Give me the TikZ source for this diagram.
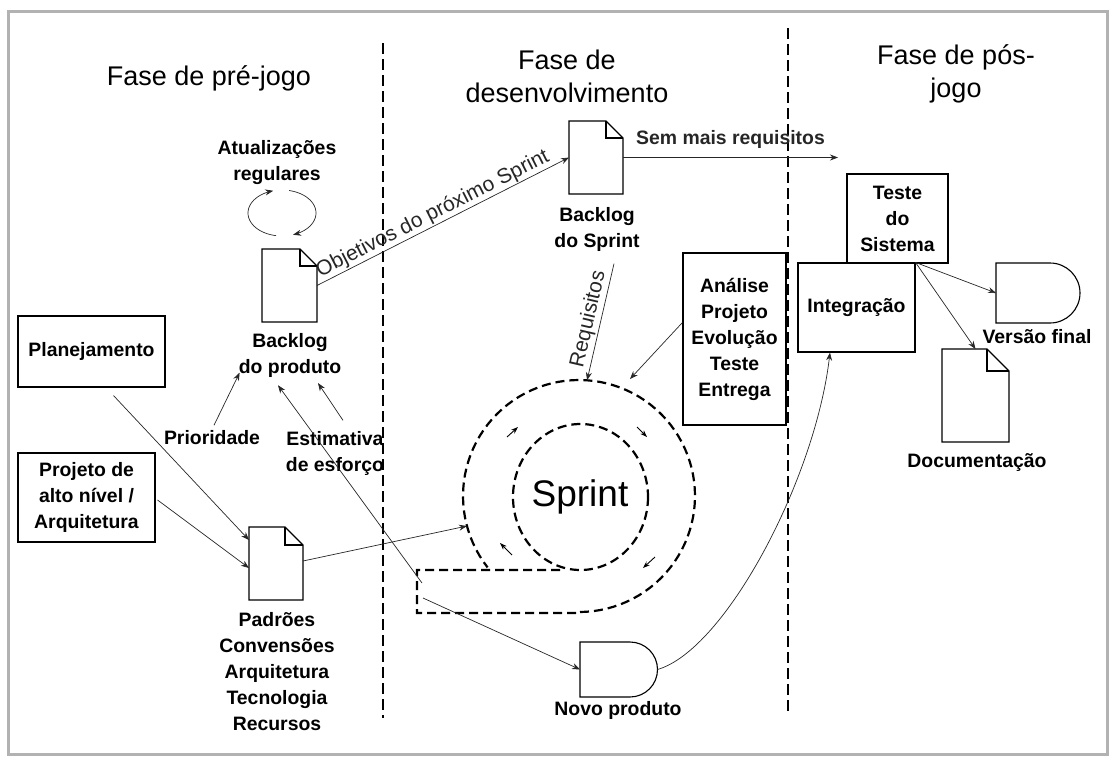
\documentclass[tikz,border=0pt]{standalone}
\usepackage{fontspec}
\setmainfont{Liberation Sans}
\usetikzlibrary{arrows.meta,calc}
\newcommand{\docicon}[2]{%
  \draw[shp, line join=miter] (#1.north west) -- ([xshift=-#2pt]#1.north east) -- ([yshift=-#2pt]#1.north east) -- (#1.south east) -- (#1.south west) -- cycle;
  \draw[shp] ([xshift=-#2pt]#1.north east) |- ([yshift=-#2pt]#1.north east);}
\newcommand{\dshape}[3]{%
  \draw[shp] (#1.north west) -- ++(#2pt,0pt) arc[start angle=90, end angle=-90, radius=#3pt] -- (#1.south west) -- cycle;}
\tikzset{
  lab/.style={font=\fontsize{19.4}{26}\selectfont\bfseries, align=center, inner sep=0pt},
  head/.style={font=\fontsize{27}{33}\selectfont, align=center, inner sep=0pt},
  reg/.style={font=\fontsize{21}{26}\selectfont},
  boxn/.style={draw, line width=1.1pt, lab},
  shp/.style={draw, line width=1.1pt},
  ghost/.style={inner sep=0pt, outer sep=0pt},
  conn/.style={line width=0.7pt, black!85, -{Stealth[length=8pt,width=6pt]}},
  small/.style={line width=0.9pt, -{Stealth[length=7pt,width=5pt]}},
  phase/.style={line width=2.4pt, dash pattern=on 11pt off 5pt},
  spiral/.style={line width=2.2pt, dash pattern=on 9pt off 5pt},
}
\begin{document}
\begin{tikzpicture}[x=1pt,y=-1pt]
\useasboundingbox (0,0) rectangle (1112,756);
\draw[gray!60, line width=3pt] (8,11) rectangle (1107,754);

% phase headings
\node[head, anchor=base] (h1) at (209,85) {Fase de pré-jogo};
\node[head] (h2) at (567,76.2) {Fase de\\desenvolvimento};
\node[head] (h3) at (956,73.5) {Fase de pós-\\jogo};

% phase separators
\coordinate (d1t) at (383,43);
\coordinate (d1b) at (383,718);
\coordinate (d2t) at (788,28);
\coordinate (d2b) at (788,715);
\draw[phase] (d1t) -- (d1b);
\draw[phase] (d2t) -- (d2b);

% boxes
\node[boxn, minimum width=147pt, minimum height=71pt] (plan) at (91.5,351.5) {Planejamento};
\node[boxn, minimum width=137pt, minimum height=89pt] (proj) at (86.5,497.5) {Projeto de\\alto nível /\\Arquitetura};
\node[boxn, minimum width=103pt, minimum height=172pt] (anal) at (734.5,339) {Análise\\Projeto\\Evolução\\Teste\\Entrega};
\node[boxn, minimum width=117pt, minimum height=89pt] (integ) at (856.5,307.5) {Integração};
\node[boxn, minimum width=101pt, minimum height=89pt] (teste) at (897.5,218.5) {Teste\\do\\Sistema};

% documents and other shapes
\node[ghost, minimum width=55pt, minimum height=73pt] (bp) at (289.5,285.5) {};
\node[ghost, minimum width=54pt, minimum height=73pt] (pad) at (276,563.5) {};
\node[ghost, minimum width=54pt, minimum height=73pt] (bs) at (596,157.5) {};
\node[ghost, minimum width=67pt, minimum height=93pt] (docn) at (975.5,395.5) {};
\node[ghost, minimum width=77.5pt, minimum height=55pt] (np) at (618.75,669.5) {};
\node[ghost, minimum width=84pt, minimum height=60pt] (vf) at (1038,293) {};
\docicon{bp}{17}
\docicon{pad}{18}
\docicon{bs}{17}
\docicon{docn}{22}
\dshape{np}{50}{27.5}
\dshape{vf}{54}{30}

% labels
\node[lab] (atlab) at (277,162.4) {Atualizações\\regulares};
\node[lab] (bplab) at (290,355.4) {Backlog\\do produto};
\node[lab, anchor=base] (prio) at (212,444) {Prioridade};
\node[lab] (est) at (335,453.4) {Estimativa\\de esforço};
\node[lab] (padlab) at (277,671.9) {Padrões\\Convensões\\Arquitetura\\Tecnologia\\Recursos};
\node[lab] (bslab) at (597,229.4) {Backlog\\do Sprint};
\node[lab, anchor=base] (vflab) at (1037,343) {Versão final};
\node[lab, anchor=base] (doclab) at (977,467) {Documentação};
\node[lab, anchor=base] (nplab) at (618,715) {Novo produto};

% sprint spiral
\coordinate (sc) at (579,496);
\coordinate (ic) at (580.5,497);
\node[font=\fontsize{37}{40}\selectfont, inner sep=0pt] (spr) at (580,497) {Sprint};
\draw[spiral] (560,570) -- (417,570) -- (417,613) -- (579,613) -- plot[domain=0:308, samples=90] ({579+116*cos(90-\x)},{496+116*sin(90-\x)});
\draw[spiral] (ic) ellipse [x radius=67.5, y radius=73];
\coordinate (a1s) at (507,437); \coordinate (a1e) at (518,427);
\coordinate (a2s) at (637,427); \coordinate (a2e) at (647,437);
\coordinate (a3s) at (655,557); \coordinate (a3e) at (643,568);
\coordinate (a4s) at (512,555); \coordinate (a4e) at (500,543);
\draw[small] (a1s) -- (a1e);
\draw[small] (a2s) -- (a2e);
\draw[small] (a3s) -- (a3e);
\draw[small] (a4s) -- (a4e);
\coordinate (r1) at (422,583);
\coordinate (r2) at (423,598);
\coordinate (opad) at ($(sc)+(165:116)$);
\coordinate (oreq) at ($(sc)+(-86:116)$);
\coordinate (oanal) at (630,379);
\coordinate (semend) at (838,157.5);

% update loop
\draw[conn] plot[domain=100:255, samples=40] ({282+34*cos(\x)},{213+23*sin(\x)});
\draw[conn] plot[domain=282:431, samples=40] ({282+34*cos(\x)},{213+23*sin(\x)});

% connectors
\draw[conn] ([xshift=22pt,yshift=-8pt]plan.south) -- ([yshift=23.5pt]pad.west);
\draw[conn] ([xshift=2pt,yshift=-2.5pt]proj.east) -- ([yshift=-4.5pt]pad.west);
\draw[conn] ([xshift=2pt,yshift=4.5pt]prio.north) -- ([xshift=1pt,yshift=5pt]bplab.south west);
\draw[conn] ([xshift=8pt,yshift=10.8pt]est.north) -- ([xshift=28pt,yshift=-5.4pt]bplab.south);
\draw[conn] (r1) -- ([xshift=-12pt,yshift=-7.6pt]bplab.south);
\draw[conn] (bp.east) -- node[reg, sloped, above, inner sep=1pt, pos=0.48] {Objetivos do próximo Sprint} (bs.west);
\draw[conn] (bs.east) -- node[lab, above=9pt] {Sem mais requisitos} (semend);
\draw[conn] ([xshift=17pt,yshift=-12pt]bslab.south) -- node[reg, sloped, above, inner sep=2pt] {Requisitos} (oreq);
\draw[conn] ([yshift=16.5pt]anal.west) -- (oanal);
\draw[conn] ([yshift=2.5pt]pad.east) -- (opad);
\draw[conn] (r2) -- (np.west);
\draw[conn] (np.east) .. controls (725,650) and (815,480) .. ([xshift=-26.5pt]integ.south);
\draw[conn] (integ.north east) -- (vf.west);
\draw[conn] (integ.north east) -- (docn.north);
\end{tikzpicture}
\end{document}
